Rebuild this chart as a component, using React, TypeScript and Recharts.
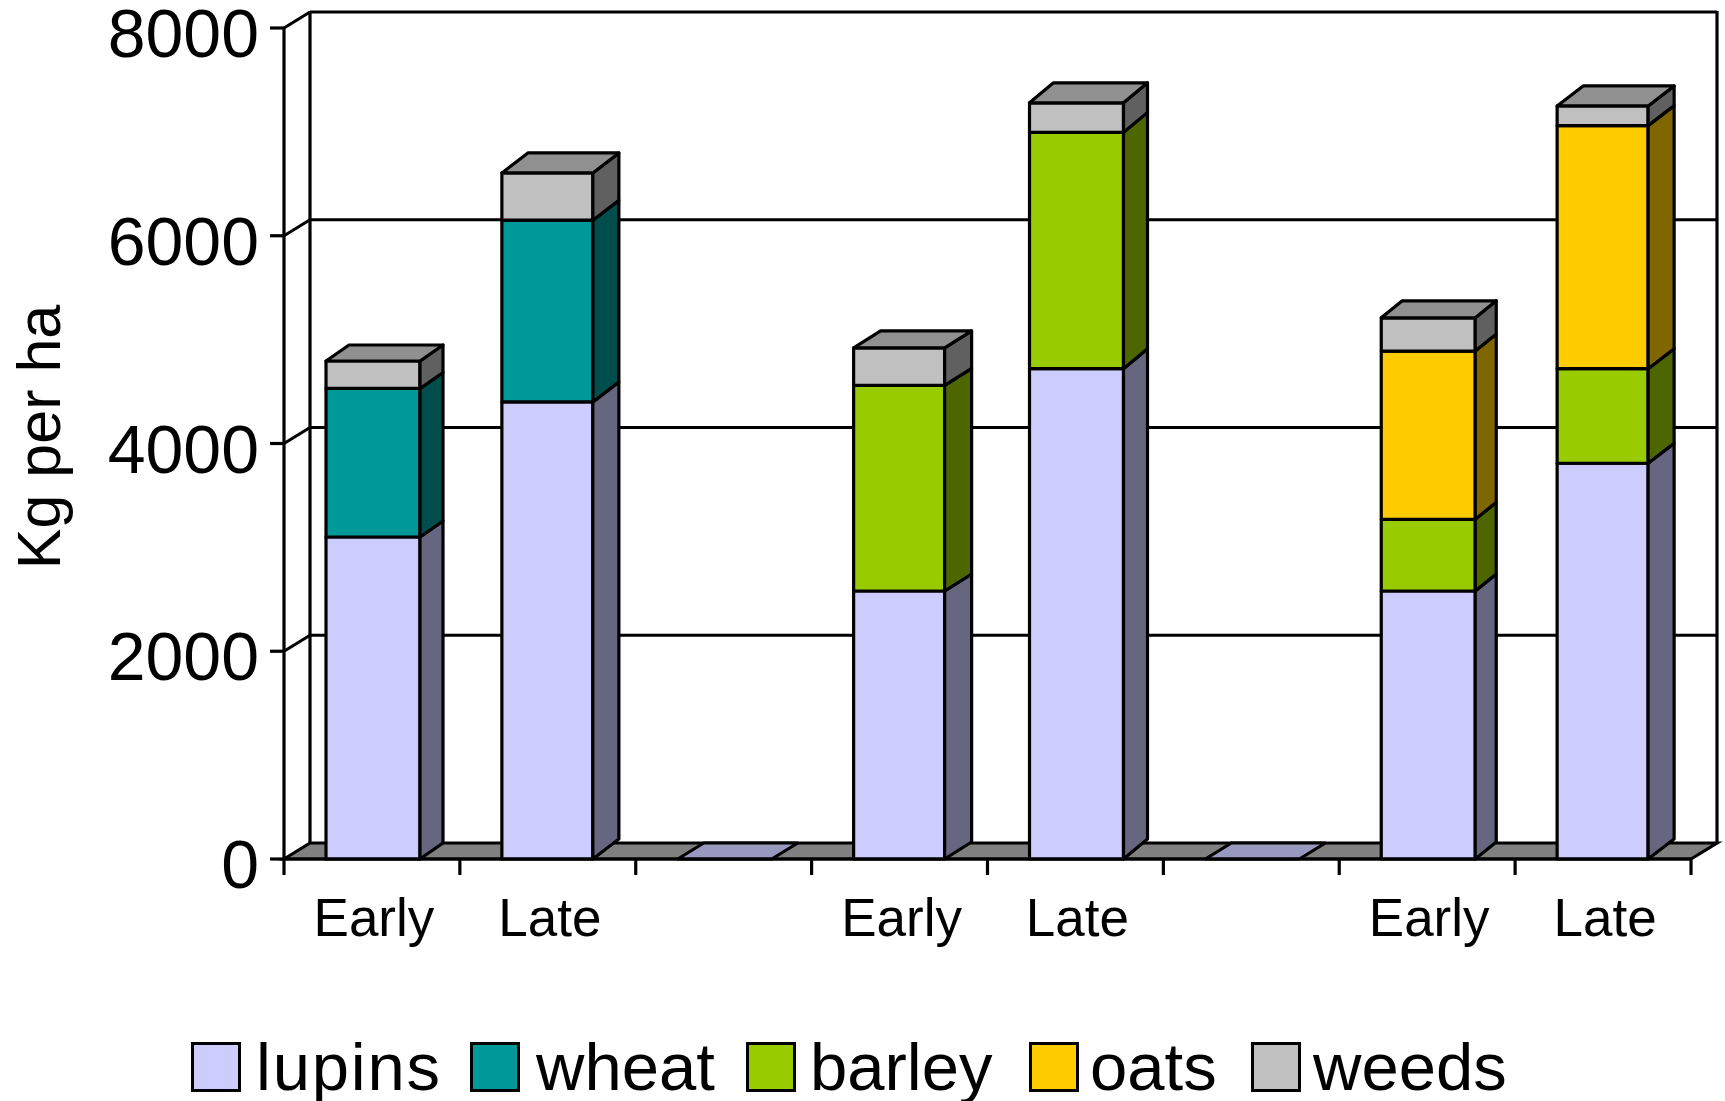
import { BarChart, Bar, XAxis, YAxis, CartesianGrid, Legend } from 'recharts';

const categories = ['Early', 'Late', '', 'Early', 'Late', '', 'Early', 'Late'];
const lupins = [3100, 4400, 0, 2580, 4720, 0, 2580, 3810];
const wheat = [1430, 1750, 0, 0, 0, 0, 0, 0];
const barley = [0, 0, 0, 1980, 2275, 0, 690, 910];
const oats = [0, 0, 0, 0, 0, 0, 1620, 2340];
const weeds = [264, 455, 0, 360, 285, 0, 320, 190];
const yTicks = [0, 2000, 4000, 6000, 8000];

const FONT = '"Liberation Sans", Arial, sans-serif';
const LINE = 3.2;
// how far the 3D walls and bar sides are pushed back
const WALL_DX = 26;
const WALL_DY = -16;
const PLOT_BOTTOM = 859;
const BAND = 175.9;
const depthX = [23, 26, 26, 27, 24, 26, 21, 26];
const depthY = [-16, -20, -16, -17, -20, -16, -17, -20];
// the original's bars are not all quite the same width
const widthTrim = [0, 3, 0, 3, 0, 0, 0, 3];

const seriesList = [
  { key: 'lupins', values: lupins, front: '#CCCCFF', side: '#666680', top: '#9999BF' },
  { key: 'wheat', values: wheat, front: '#009999', side: '#004D4D', top: '#007373' },
  { key: 'barley', values: barley, front: '#99CC00', side: '#4D6600', top: '#739900' },
  { key: 'oats', values: oats, front: '#FFCC00', side: '#806600', top: '#BF9900' },
  { key: 'weeds', values: weeds, front: '#C0C0C0', side: '#606060', top: '#909090' },
];

const data = categories.map((cat, i) => ({
  cat,
  lupins: lupins[i],
  wheat: wheat[i],
  barley: barley[i],
  oats: oats[i],
  weeds: weeds[i],
}));

const pts = (p: number[][]) => p.map(q => q.join(',')).join(' ');

// one stacked segment: front face, side face, and the lid when it is the top of the stack
function Block({ x: x0, y, width, height, index, sIdx }: any) {
  const s = seriesList[sIdx];
  const val = s.values[index];
  const isTop = !seriesList.slice(sIdx + 1).some(o => o.values[index] > 0);
  if (val <= 0 && !(sIdx === 0 && isTop)) return null;
  const x = x0 + 1;
  const w = width - widthTrim[index];
  const dx = depthX[index];
  const dy = depthY[index];
  const r = x + w;
  const b = y + height;
  return (
    <g stroke="#000" strokeWidth={LINE} strokeLinejoin="round">
      {height > 0 && <rect x={x} y={y} width={w} height={height} fill={s.front} />}
      {height > 0 && <polygon points={pts([[r, y], [r + dx, y + dy], [r + dx, b + dy], [r, b]])} fill={s.side} />}
      {isTop && <polygon points={pts([[x, y], [x + dx, y + dy], [r + dx, y + dy], [r, y]])} fill={s.top} />}
    </g>
  );
}

// grid lines go on the back wall; the zero line becomes the floor and the wall edges
function WallLine({ x1, y1, x2 }: any) {
  const back = y1 + WALL_DY;
  if (y1 >= PLOT_BOTTOM - 1) {
    return (
      <g stroke="#000" strokeWidth={LINE}>
        <line x1={x1 + WALL_DX} y1={back} x2={x1 + WALL_DX} y2={back - 832} />
        <line x1={x2 + WALL_DX} y1={back} x2={x2 + WALL_DX} y2={back - 832} />
        <polygon points={pts([[x1, y1], [x1 + WALL_DX, back], [x2 + WALL_DX, back], [x2, y1]])} fill="#808080" />
      </g>
    );
  }
  return (
    <g stroke="#000" strokeWidth={LINE} fill="none">
      <line x1={x1} y1={y1} x2={x1 + WALL_DX} y2={back} />
      <line x1={x1 + WALL_DX} y1={back} x2={x2 + WALL_DX} y2={back} />
    </g>
  );
}

function CatTick({ x, y, payload, index }: any) {
  const left = x - BAND / 2;
  return (
    <g>
      <line x1={left} y1={y - 8} x2={left} y2={y + 8} stroke="#000" strokeWidth={LINE} />
      {index === categories.length - 1 && (
        <line x1={left + BAND} y1={y - 8} x2={left + BAND} y2={y + 8} stroke="#000" strokeWidth={LINE} />
      )}
      <text x={x + 2} y={y + 69} textAnchor="middle" fontFamily={FONT} fontSize={53} fill="#000">
        {payload.value}
      </text>
    </g>
  );
}

function KgLabel() {
  return (
    <text
      x={0}
      y={0}
      transform="translate(60,437) rotate(-90)"
      textAnchor="middle"
      fontFamily={FONT}
      fontSize={61}
      fill="#000"
    >
      Kg per ha
    </text>
  );
}

const legendLefts = [191, 470, 746, 1029, 1251];
const legendGaps = [15, 16, 14, 11, 12];
const legendTracking = [1.8, 0, 0, 0, 0];

function LegendRow({ payload }: any) {
  return (
    <div style={{ position: 'relative', height: 60 }}>
      {(payload || []).map((p: any, i: number) => (
        <div key={p.value} style={{ position: 'absolute', left: legendLefts[i], top: 0, display: 'flex', alignItems: 'center', whiteSpace: 'nowrap', fontFamily: FONT, fontSize: 67, lineHeight: '60px', letterSpacing: legendTracking[i], color: '#000' }}>
          <span style={{ display: 'inline-block', width: 44, height: 44, background: p.color, border: '3px solid #000', marginRight: legendGaps[i] }} />
          {p.value}
        </div>
      ))}
    </div>
  );
}

export default function App() {
  return (
    <div style={{ position: 'absolute', left: 0, top: 0, width: 1725, height: 1101, background: '#fff', overflow: 'hidden' }}>
      <BarChart width={1725} height={1101} data={data} barSize={94} margin={{ top: 28, right: 34, bottom: 142, left: 0 }}>
        <CartesianGrid vertical={false} horizontal={(p: any) => <WallLine key={p.y1} {...p} />} />
        <XAxis dataKey="cat" interval={0} height={100} tick={<CatTick />} tickLine={false} axisLine={{ stroke: '#000', strokeWidth: LINE }} />
        <YAxis
          width={284}
          domain={[0, 8000]}
          ticks={yTicks}
          interval={0}
          tickSize={14}
          tickMargin={11}
          tick={{ fontFamily: FONT, fontSize: 68, fill: '#000', dy: 5 }}
          tickLine={{ stroke: '#000', strokeWidth: LINE }}
          axisLine={{ stroke: '#000', strokeWidth: LINE }}
          label={<KgLabel />}
        />
        {seriesList.map((s, i) => (
          <Bar
            key={s.key}
            dataKey={s.key}
            name={s.key}
            stackId="a"
            fill={s.front}
            isAnimationActive={false}
            shape={(p: any) => <Block {...p} sIdx={i} />}
          />
        ))}
        <Legend
          layout="horizontal"
          verticalAlign="middle"
          itemSorter={null}
          content={<LegendRow />}
          wrapperStyle={{ left: 0, top: 1037, width: 1725, height: 60 }}
        />
      </BarChart>
    </div>
  );
}
